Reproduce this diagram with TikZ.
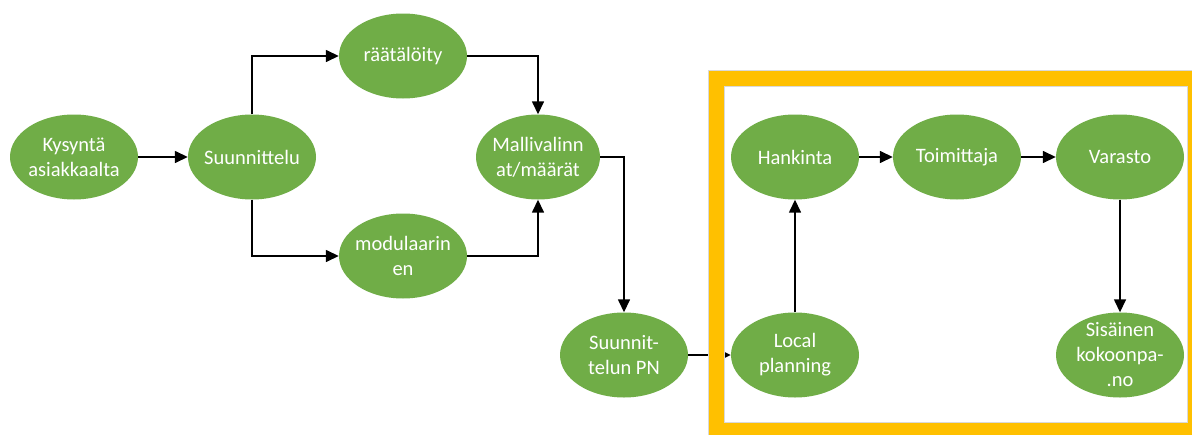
\documentclass[tikz,border=0pt]{standalone}
\usepackage{fontspec}
\setmainfont{Carlito}
\usetikzlibrary{shapes.geometric,arrows.meta}
\definecolor{leafgreen}{HTML}{70AD47}
\definecolor{frameorange}{HTML}{FFC000}
\tikzset{
  stage/.style={ellipse,fill=leafgreen,text=white,inner sep=-14pt,align=center,
    minimum width=128pt,minimum height=85pt,font=\fontsize{20.5}{25}\selectfont},
  flow/.style={line width=1.5pt,-{Triangle[length=13pt,width=12pt]}}
}
\begin{document}
\begin{tikzpicture}[x=1pt,y=-1pt]
\useasboundingbox (0,0) rectangle (1192,434);
\clip (0,0) rectangle (1192,434);
\fill[white] (0,0) rectangle (1192,434);

\node[stage] (kysynta) at (74,157) {Kysyntä\\asiakkaalta};
\node[stage] (suunnittelu) at (252,157) {Suunnittelu};
\node[stage] (raataloity) at (403,56) {räätälöity};
\node[stage] (modulaarinen) at (403,256) {modulaarin\\en};
\node[stage,minimum width=124pt] (mallivalinnat) at (538,157) {Mallivalinn\\at/määrät};
\node[stage] (suunnitpn) at (624,355) {Suunnit-\\telun PN};
\node[stage] (local) at (795,355) {Local\\planning};

\draw[flow] (kysynta) -- (suunnittelu);
\draw[flow] (suunnittelu.north) |- (raataloity.west);
\draw[flow] (suunnittelu.south) |- (modulaarinen.west);
\draw[flow] (raataloity.east) -| (mallivalinnat.north);
\draw[flow] (modulaarinen.east) -| (mallivalinnat.south);
\draw[flow] (mallivalinnat.east) -| (suunnitpn.north);
\draw[flow] (suunnitpn.east) -- (local.west);

% orange frame round the local part
\fill[frameorange,even odd rule] (708,70) rectangle (1203,438) (724,86) rectangle (1187,422);
\draw[black!15,line width=0.8pt] (708,70) rectangle (1203,438);
\draw[black!15,line width=0.8pt] (724,86) rectangle (1187,422);

\node[stage] (hankinta) at (795,157) {Hankinta};
\node[stage] (toimittaja) at (957,157) {Toimittaja};
\node[stage] (varasto) at (1120,157) {Varasto};
\node[stage] (sisainen) at (1120,355) {Sisäinen\\kokoonpa-\\.no};

\draw[flow] (local) -- (hankinta);
\draw[flow] (hankinta) -- (toimittaja);
\draw[flow] (toimittaja) -- (varasto);
\draw[flow] (varasto) -- (sisainen);
\end{tikzpicture}
\end{document}
